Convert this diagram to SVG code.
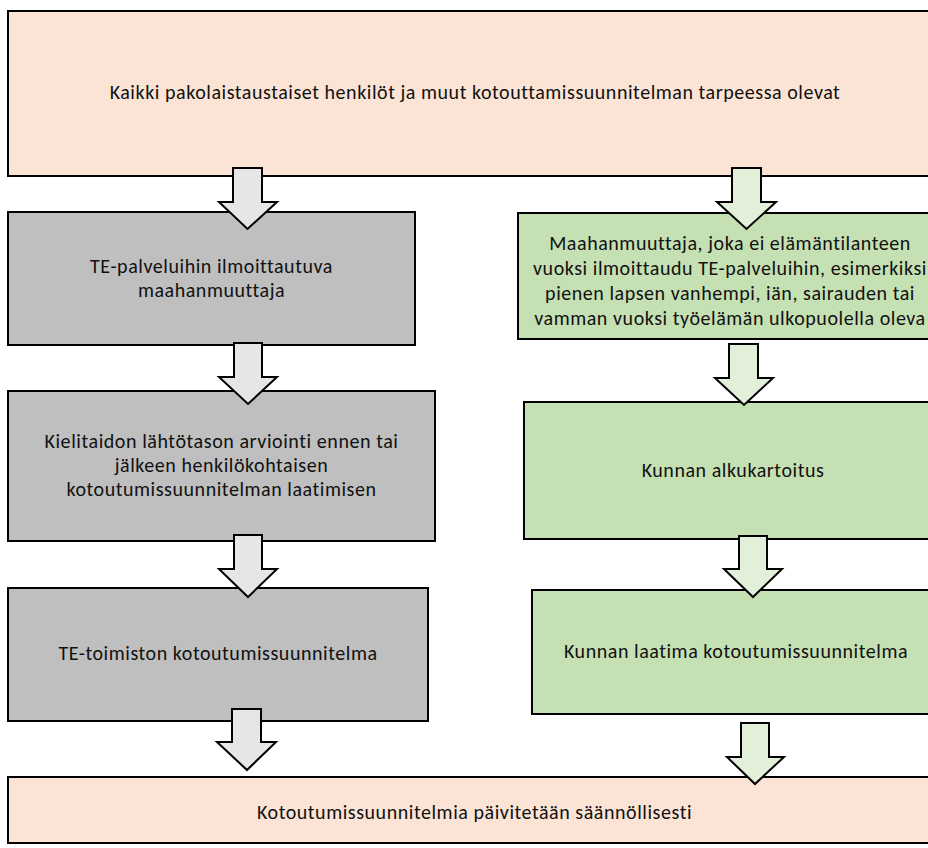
<svg xmlns="http://www.w3.org/2000/svg" width="928" height="848" viewBox="0 0 928 848">
<style>
.box{stroke:#000;stroke-width:2}
.peach{fill:#FBE4D5}
.grey{fill:#BFBFBF}
.green{fill:#C5E0B3}
.ag{fill:#E6E6E6;stroke:#000;stroke-width:2;stroke-linejoin:miter}
.an{fill:#E2EFD9;stroke:#000;stroke-width:2;stroke-linejoin:miter}
text{font-family:Carlito,Lato,"Open Sans",sans-serif;font-size:20px;letter-spacing:0.55px;fill:#111;text-anchor:middle}
</style>
<rect width="928" height="848" fill="#fff"/>
<g id="top">
<rect class="box peach" x="8" y="11" width="934" height="165"/>
<text x="475" y="99">Kaikki pakolaistaustaiset henkilöt ja muut kotouttamissuunnitelman tarpeessa olevat</text>
</g>
<g id="grey1">
<rect class="box grey" x="8" y="212" width="407" height="133"/>
<text x="211.5" y="273">TE-palveluihin ilmoittautuva</text>
<text x="211.5" y="297">maahanmuuttaja</text>
</g>
<g id="grey2">
<rect class="box grey" x="8" y="391" width="427" height="150"/>
<text x="221.5" y="448" textLength="354" lengthAdjust="spacingAndGlyphs">Kielitaidon lähtötason arviointi ennen tai</text>
<text x="221.5" y="472">jälkeen henkilökohtaisen</text>
<text x="221.5" y="496">kotoutumissuunnitelman laatimisen</text>
</g>
<g id="grey3">
<rect class="box grey" x="8" y="588" width="420" height="133"/>
<text x="218" y="660">TE-toimiston kotoutumissuunnitelma</text>
</g>
<g id="green1">
<rect class="box green" x="518" y="213" width="424" height="126"/>
<text x="730" y="250">Maahanmuuttaja, joka ei elämäntilanteen</text>
<text x="730" y="275">vuoksi ilmoittaudu TE-palveluihin, esimerkiksi</text>
<text x="730" y="300">pienen lapsen vanhempi, iän, sairauden tai</text>
<text x="730" y="325">vamman vuoksi työelämän ulkopuolella oleva</text>
</g>
<g id="green2">
<rect class="box green" x="524" y="402" width="418" height="137"/>
<text x="733" y="477">Kunnan alkukartoitus</text>
</g>
<g id="green3">
<rect class="box green" x="532" y="590" width="408" height="124"/>
<text x="736" y="658">Kunnan laatima kotoutumissuunnitelma</text>
</g>
<g id="bottom">
<rect class="box peach" x="8" y="777" width="934" height="66"/>
<text x="474.5" y="819">Kotoutumissuunnitelmia päivitetään säännöllisesti</text>
</g>
<g id="connectors">
<polygon class="ag" points="233,168 262,168 262,202 277,202 247.5,229 219,202 233,202"/>
<polygon class="an" points="732,168 761,168 761,202 776,202 746.5,229 717,202 732,202"/>
<polygon class="ag" points="234,343 262,343 262,377 277,377 248,404 219,377 234,377"/>
<polygon class="an" points="729,344 758,344 758,378 773,378 744,405 715,378 729,378"/>
<polygon class="ag" points="234,535 262,535 262,569 277,569 248,597 219,569 234,569"/>
<polygon class="an" points="739,536 767,536 767,569 782,569 753,597 724,569 739,569"/>
<polygon class="ag" points="232,709 261,709 261,742 276,742 247,770 217,742 232,742"/>
<polygon class="an" points="741,723 769,723 769,757 784,757 755,784 727,757 741,757"/>
</g>
</svg>
